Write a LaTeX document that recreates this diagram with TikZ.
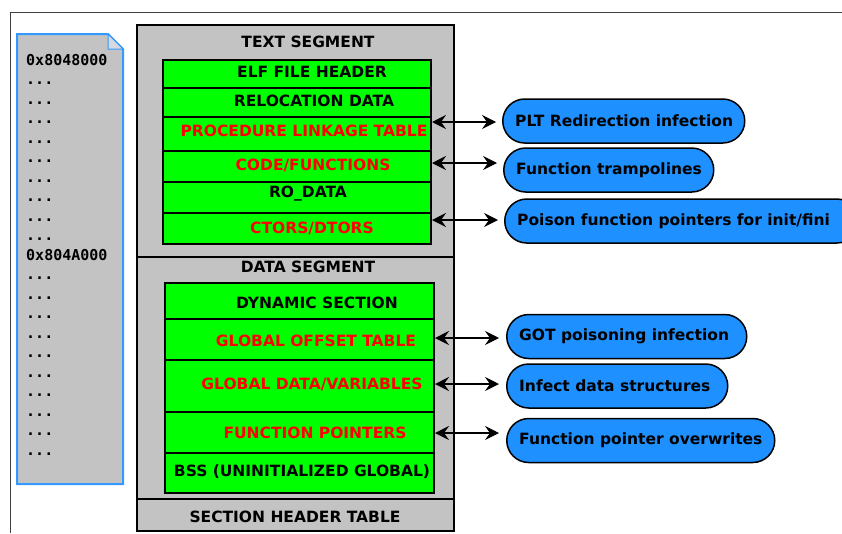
\documentclass[tikz,border=0pt]{standalone}
\usepackage{fontspec}
\setmainfont{DejaVu Sans}
\newfontfamily\monofont{DejaVu Sans Mono}
\usetikzlibrary{arrows.meta,shapes.misc}
\definecolor{seggray}{RGB}{195,195,195}
\definecolor{foldgray}{RGB}{214,218,224}
\definecolor{stripblue}{RGB}{51,153,255}
\definecolor{pillblue}{RGB}{30,144,255}
\definecolor{secgreen}{RGB}{0,255,0}
\definecolor{hotred}{RGB}{255,0,0}
\tikzset{
  segbox/.style={draw=black, fill=seggray, line width=2pt, anchor=north west, inner sep=0pt},
  rowbox/.style={draw=black, fill=secgreen, line width=2pt, anchor=north west, inner sep=0pt},
  lbl/.style={font=\fontsize{15.5}{18}\selectfont\bfseries, text=black, inner sep=0pt},
  hot/.style={lbl, text=hotred},
  addr/.style={font=\fontsize{15}{17}\selectfont\monofont\bfseries, anchor=base west, inner sep=0pt},
  pill/.style={rounded rectangle, draw=black, fill=pillblue, line width=1.5pt,
    minimum height=44pt, inner sep=0pt, anchor=west},
  pilltext/.style={lbl, anchor=west},
  biarrow/.style={line width=1.5pt, {Stealth[length=14pt,width=14pt,inset=5pt]}-{Stealth[length=14pt,width=14pt,inset=5pt]}}
}
\begin{document}
\begin{tikzpicture}[x=1pt,y=-1pt]
\useasboundingbox (0,0) rectangle (842,533);
\fill[white] (0,0) rectangle (842,533);

% page frame
\draw[line width=1pt, black!75] (10,533) -- (10,12) -- (842,12);

% address strip (document shape with folded corner)
\draw[stripblue, line width=2pt, fill=seggray] (17,34) -- (108,34) -- (123,49) -- (123,484) -- (17,484) -- cycle;
\draw[stripblue, line width=1pt, fill=foldgray] (108,34) -- (108,49) -- (123,49) -- cycle;
\node[addr] (a0) at (26,65) {0x8048000};
\foreach \k in {1,...,9} {
  \node[addr] (d\k) at (26,{65+19.5*\k}) {...};
}
\node[addr] (a1) at (26,260) {0x804A000};
\foreach \k in {11,...,20} {
  \node[addr] (d\k) at (26,{65+19.5*\k}) {...};
}

% segments
\node[segbox, minimum width=317pt, minimum height=231.5pt] (textseg) at (136,24) {};
\node[segbox, minimum width=317pt, minimum height=242.5pt] (dataseg) at (136,255.5) {};
\node[segbox, minimum width=317pt, minimum height=32pt] (shtab) at (136,498) {};
\node[lbl] at (308,42) {TEXT SEGMENT};
\node[lbl] at (308,267) {DATA SEGMENT};
\node[lbl] at (295,517) {SECTION HEADER TABLE};

% text segment sections
\node[rowbox, minimum width=268pt, minimum height=28pt] (elf) at (162,59) {};
\node[rowbox, minimum width=268pt, minimum height=29pt] (reloc) at (162,87) {};
\node[rowbox, minimum width=268pt, minimum height=34pt] (plt) at (162,116) {};
\node[rowbox, minimum width=268pt, minimum height=31pt] (code) at (162,150) {};
\node[rowbox, minimum width=268pt, minimum height=31pt] (rodata) at (162,181) {};
\node[rowbox, minimum width=268pt, minimum height=31pt] (ctors) at (162,212) {};
\node[lbl] at (312,72) {ELF FILE HEADER};
\node[lbl] at (314,101) {RELOCATION DATA};
\node[hot] at (304,131) {PROCEDURE LINKAGE TABLE};
\node[hot] at (313,165) {CODE/FUNCTIONS};
\node[lbl] at (308,194) {RO\_DATA};
\node[hot] at (312,228) {CTORS/DTORS};

% data segment sections
\node[rowbox, minimum width=269pt, minimum height=36pt] (dyn) at (164,282) {};
\node[rowbox, minimum width=269pt, minimum height=41pt] (got) at (164,318) {};
\node[rowbox, minimum width=269pt, minimum height=52pt] (gdata) at (164,359) {};
\node[rowbox, minimum width=269pt, minimum height=41pt] (fptr) at (164,411) {};
\node[rowbox, minimum width=269pt, minimum height=40pt] (bss) at (164,452) {};
\node[lbl] at (317,303) {DYNAMIC SECTION};
\node[hot] at (316,341) {GLOBAL OFFSET TABLE};
\node[hot] at (312,384) {GLOBAL DATA/VARIABLES};
\node[hot] at (315,433) {FUNCTION POINTERS};
\node[lbl] at (302,472) {BSS (UNINITIALIZED GLOBAL)};

% infection techniques
\node[pill, minimum width=242pt] (pltinf) at (502,121) {};
\node[pill, minimum width=210pt] (tramp) at (503,170) {};
\node[pill, minimum width=354pt] (initfini) at (504,221) {};
\node[pill, minimum width=240pt] (gotinf) at (506,336.5) {};
\node[pill, minimum width=221pt] (datainf) at (506,386) {};
\node[pill, minimum width=268pt] (fpover) at (506,440.5) {};
\node[pilltext] at ([xshift=13pt]pltinf.west) {PLT Redirection infection};
\node[pilltext] at ([xshift=13pt]tramp.west) {Function trampolines};
\node[pilltext] at ([xshift=13pt]initfini.west) {Poison function pointers for init/fini};
\node[pilltext] at ([xshift=13pt]gotinf.west) {GOT poisoning infection};
\node[pilltext] at ([xshift=13pt]datainf.west) {Infect data structures};
\node[pilltext] at ([xshift=13pt]fpover.west) {Function pointer overwrites};

% links between sections and techniques
\draw[biarrow] (plt.east |- 0,122) -- ([xshift=-6pt]pltinf.west |- 0,122);
\draw[biarrow] (code.east |- 0,163) -- ([xshift=-6pt]tramp.west |- 0,163);
\draw[biarrow] (ctors.east |- 0,220) -- ([xshift=-6pt]initfini.west |- 0,220);
\draw[biarrow] (got.east |- 0,338) -- ([xshift=-7pt]gotinf.west |- 0,338);
\draw[biarrow] (gdata.east |- 0,384) -- ([xshift=-7pt]datainf.west |- 0,384);
\draw[biarrow] (fptr.east |- 0,433) -- ([xshift=-7pt]fpover.west |- 0,433);
\end{tikzpicture}
\end{document}
